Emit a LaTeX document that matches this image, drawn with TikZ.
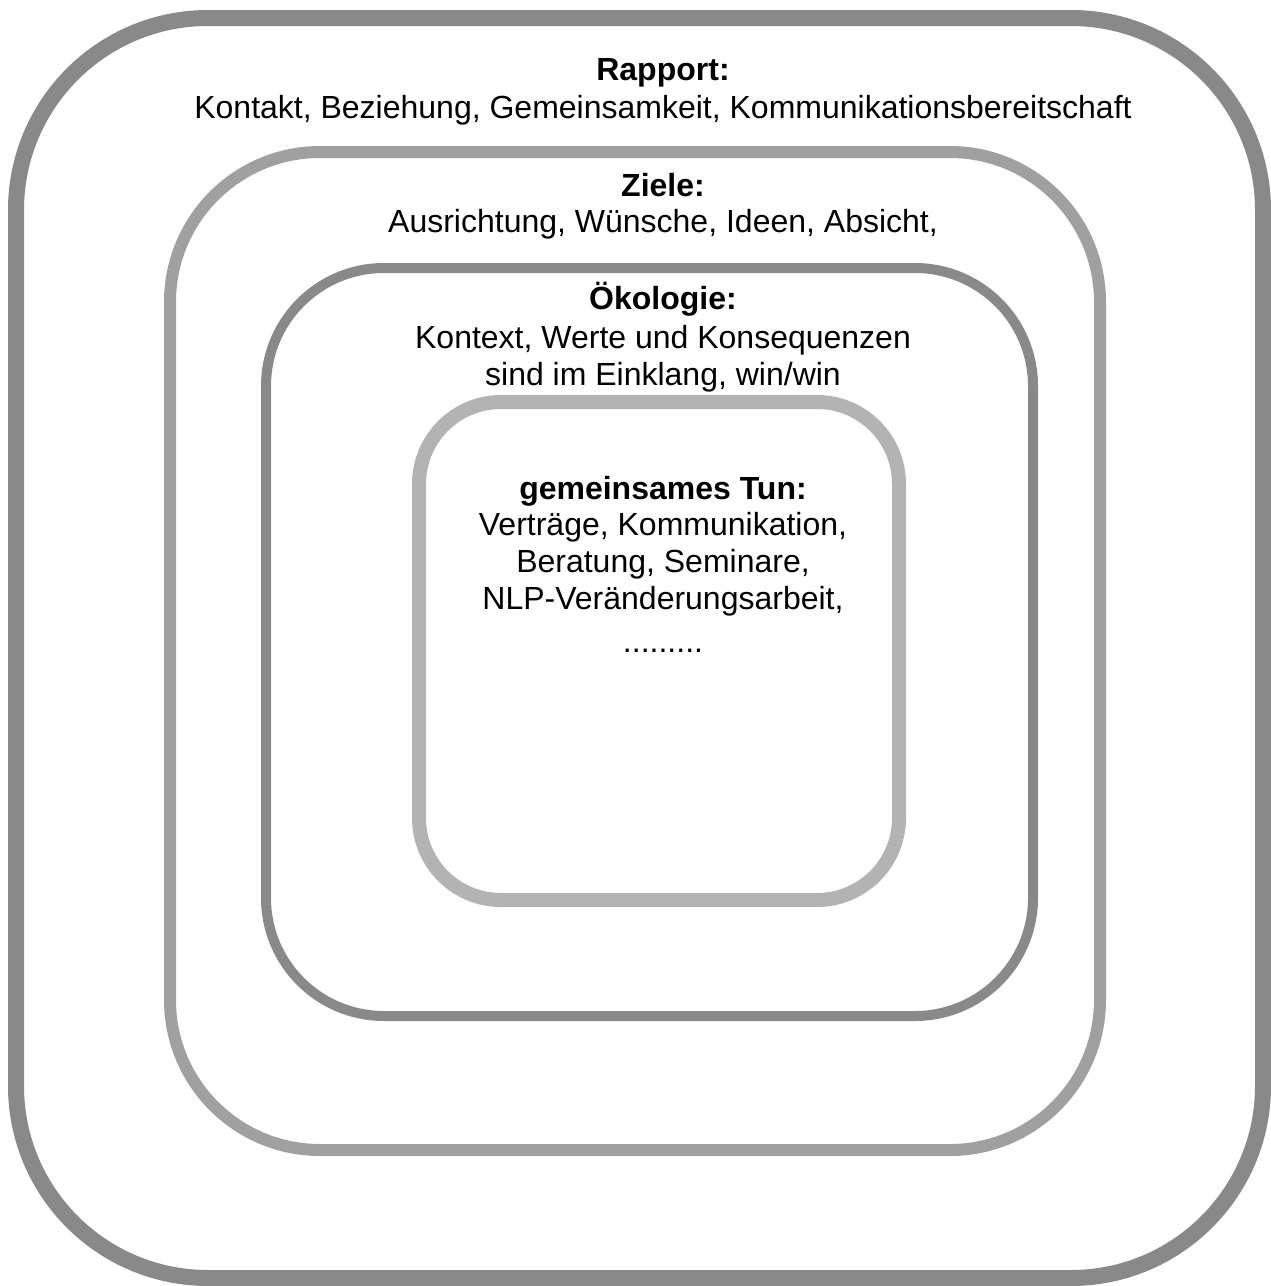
\documentclass[tikz,border=0pt]{standalone}
\usepackage{fontspec}
\setmainfont{Liberation Sans}
\definecolor{ringA}{RGB}{137,137,137}
\definecolor{ringB}{RGB}{160,160,160}
\definecolor{ringC}{RGB}{137,137,137}
\definecolor{ringD}{RGB}{179,179,179}
\tikzset{
  ring/.style={draw, rectangle, inner sep=0pt, outer sep=0pt},
  txt/.style={anchor=base, inner sep=0pt, font=\fontsize{32}{37}\selectfont},
  hd/.style={txt, font=\fontsize{32}{37}\selectfont\bfseries}
}
\begin{document}
\begin{tikzpicture}[x=1pt,y=-1pt]
\useasboundingbox (0,0) rectangle (1271,1286);
\node[ring, draw=ringA, line width=16pt, rounded corners=192pt,
  minimum width=1247pt, minimum height=1260pt] (outer) at (639.5,648) {};
\node[ring, draw=ringB, line width=12pt, rounded corners=150pt,
  minimum width=930pt, minimum height=998pt] (ziele) at (635,651) {};
\node[ring, draw=ringC, line width=10pt, rounded corners=118pt,
  minimum width=767pt, minimum height=748pt] (oeko) at (649.5,642) {};
\node[ring, draw=ringD, line width=14pt, rounded corners=82pt,
  minimum width=480pt, minimum height=498pt] (tun) at (659,651) {};

\node[hd]  (t1) at (663,80) {Rapport:};
\node[txt] (t2) at (663,118) {Kontakt, Beziehung, Gemeinsamkeit, Kommunikationsbereitschaft};
\node[hd]  (t3) at (663,196) {Ziele:};
\node[txt] (t4) at (663,232) {Ausrichtung, Wünsche, Ideen, Absicht,};
\node[hd]  (t5) at (663,309) {Ökologie:};
\node[txt] (t6) at (663,348) {Kontext, Werte und Konsequenzen};
\node[txt] (t7) at (663,385) {sind im Einklang, win/win};
\node[hd]  (t8) at (663,499) {gemeinsames Tun:};
\node[txt] (t9) at (663,535) {Verträge, Kommunikation,};
\node[txt] (t10) at (663,572) {Beratung, Seminare,};
\node[txt] (t11) at (663,609) {NLP-Veränderungsarbeit,};
\node[txt] (t12) at (663,652) {.........};
\end{tikzpicture}
\end{document}
